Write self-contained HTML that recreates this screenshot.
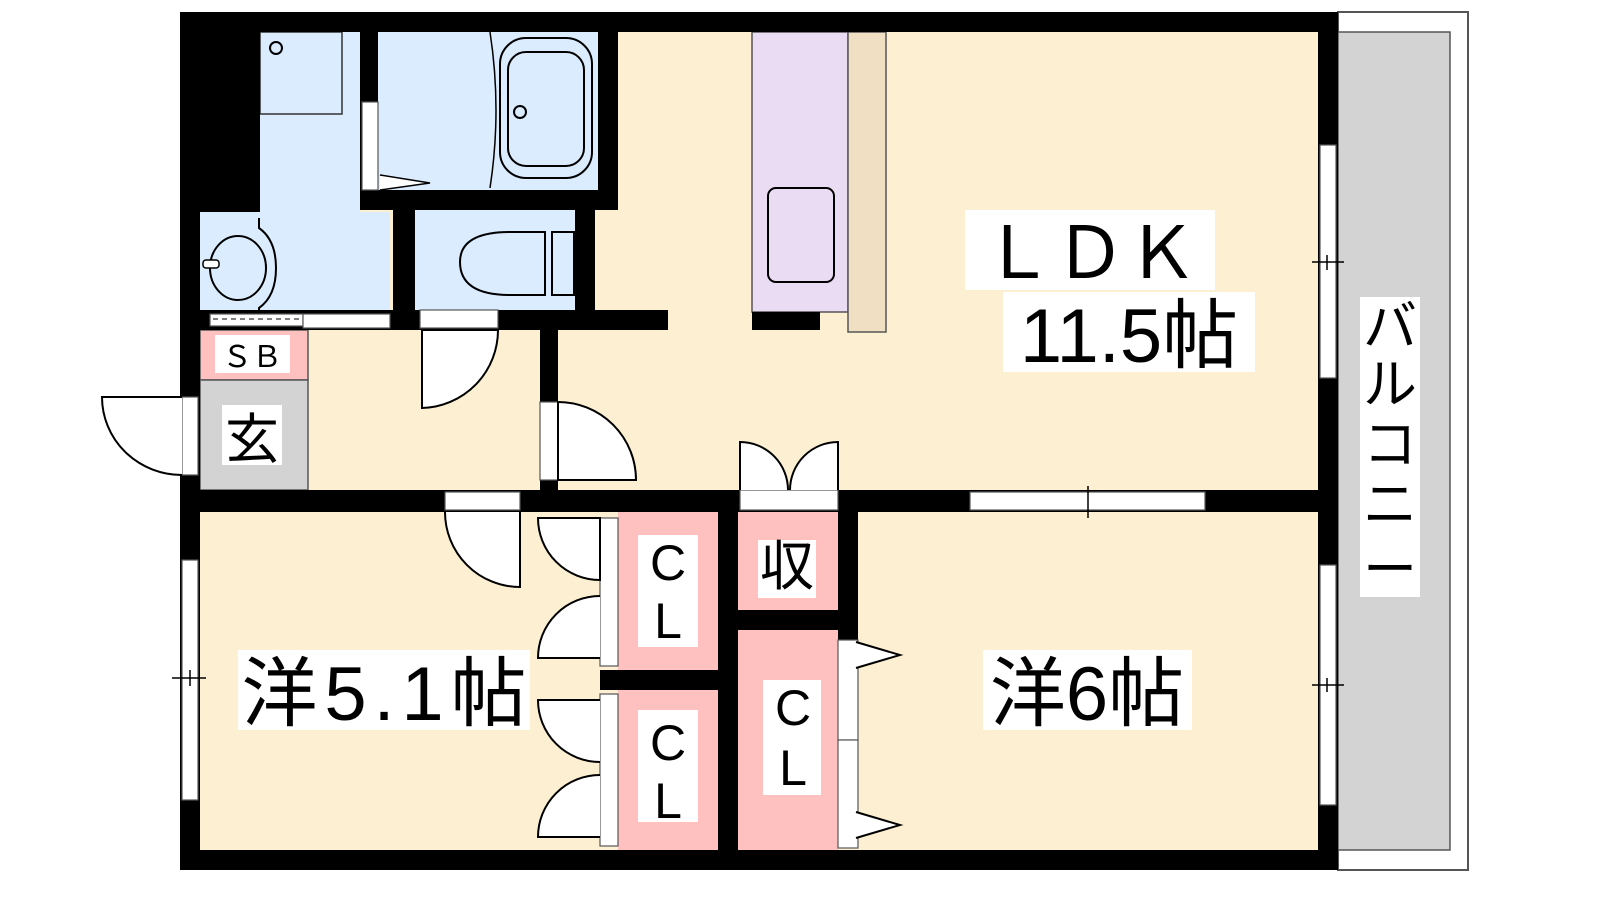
<!DOCTYPE html>
<html><head><meta charset="utf-8"><style>
html,body{margin:0;padding:0;background:#fff;width:1600px;height:900px;overflow:hidden}
text{font-family:"Liberation Sans","Noto Sans CJK JP",sans-serif;fill:#000}
</style></head><body>
<svg width="1600" height="900" viewBox="0 0 1600 900" xmlns="http://www.w3.org/2000/svg">
<rect x="1338" y="12" width="130" height="858" fill="#fff" stroke="#555" stroke-width="2"/>
<rect x="1338" y="32" width="112" height="818" fill="#d3d3d3" stroke="#555" stroke-width="1.5"/>
<rect x="200" y="32" width="1118" height="818" fill="#fdf0d2"/>
<rect x="260" y="32" width="100" height="283" fill="#dbecff"/>
<rect x="200" y="212" width="190" height="103" fill="#dbecff"/>
<rect x="378" y="32" width="220" height="158" fill="#dbecff"/>
<rect x="415" y="210" width="160" height="105" fill="#dbecff"/>
<rect x="200" y="330" width="108" height="50" fill="#ffc0c0" stroke="#555" stroke-width="1.5"/>
<rect x="200" y="380" width="108" height="110" fill="#d3d3d3" stroke="#555" stroke-width="1.5"/>
<rect x="752" y="32" width="96" height="280" fill="#eaddf3" stroke="#555" stroke-width="1.5"/>
<rect x="848" y="32" width="38" height="300" fill="#f1dfc4" stroke="#555" stroke-width="1.5"/>
<rect x="768" y="188" width="66" height="94" rx="8" fill="none" stroke="#000" stroke-width="2"/>
<rect x="618" y="512" width="100" height="158" fill="#ffc0c0"/>
<rect x="618" y="690" width="100" height="160" fill="#ffc0c0"/>
<rect x="738" y="512" width="100" height="98" fill="#ffc0c0"/>
<rect x="738" y="630" width="100" height="220" fill="#ffc0c0"/>
<rect x="260" y="32" width="82" height="82" fill="none" stroke="#333" stroke-width="1.5"/>
<circle cx="276" cy="48" r="6" fill="none" stroke="#000" stroke-width="2"/>
<ellipse cx="238" cy="268" rx="28" ry="32" fill="none" stroke="#000" stroke-width="2"/>
<path d="M259 218 V228 Q276 240 276 268 Q276 296 259 308 V318" fill="none" stroke="#000" stroke-width="2"/>
<rect x="203" y="260" width="16" height="8" rx="3" fill="#fff" stroke="#000" stroke-width="1.5"/>
<path d="M490 32 Q502 110 490 188" fill="none" stroke="#000" stroke-width="1.5"/>
<rect x="500" y="38" width="92" height="140" rx="26" fill="none" stroke="#000" stroke-width="2"/>
<rect x="508" y="52" width="76" height="114" rx="18" fill="none" stroke="#000" stroke-width="2"/>
<circle cx="520" cy="112" r="6" fill="none" stroke="#000" stroke-width="2"/>
<path d="M380 175 L430 183 L380 190" fill="#fff" stroke="#000" stroke-width="1.5"/>
<path d="M545 232 H510 Q460 232 460 262 Q460 295 510 295 H545 Z" fill="none" stroke="#000" stroke-width="2"/>
<rect x="552" y="232" width="22" height="63" fill="none" stroke="#000" stroke-width="2"/>
<g fill="#000">
<rect x="180" y="12" width="1158" height="20"/>
<rect x="180" y="12" width="20" height="858"/>
<rect x="180" y="850" width="1158" height="20"/>
<rect x="1318" y="12" width="20" height="858"/>
<rect x="180" y="12" width="80" height="200"/>
<rect x="360" y="32" width="18" height="178"/>
<rect x="360" y="190" width="258" height="20"/>
<rect x="598" y="32" width="20" height="178"/>
<rect x="393" y="210" width="22" height="120"/>
<rect x="575" y="210" width="20" height="105"/>
<rect x="200" y="310" width="468" height="20"/>
<rect x="540" y="330" width="18" height="160"/>
<rect x="180" y="490" width="1158" height="22"/>
<rect x="718" y="490" width="20" height="360"/>
<rect x="838" y="490" width="20" height="150"/>
<rect x="738" y="610" width="120" height="20"/>
<rect x="600" y="670" width="118" height="20"/>
<rect x="752" y="312" width="68" height="18"/>
</g>
<g fill="#fff" stroke="#555" stroke-width="1.2">
<rect x="362" y="102" width="16" height="88"/>
<rect x="210" y="314" width="93" height="12"/>
<rect x="303" y="314" width="87" height="14"/>
<rect x="420" y="310" width="78" height="18"/>
<rect x="540" y="402" width="18" height="78"/>
<rect x="445" y="492" width="75" height="18"/>
<rect x="740" y="490" width="98" height="20"/>
<rect x="970" y="492" width="235" height="18"/>
<rect x="1320" y="145" width="16" height="233"/>
<rect x="1320" y="565" width="16" height="240"/>
<rect x="182" y="560" width="16" height="240"/>
<rect x="182" y="397" width="16" height="78"/>
<rect x="600" y="518" width="18" height="148"/>
<rect x="600" y="694" width="18" height="152"/>
<rect x="838" y="640" width="20" height="100"/>
<rect x="838" y="740" width="20" height="108"/>
</g>
<line x1="213" y1="319" x2="300" y2="319" stroke="#000" stroke-dasharray="5,4"/>
<g fill="#fff" stroke="#000" stroke-width="2">
<path d="M422 330 V408 A78 78 0 0 0 498 330 Z"/>
<path d="M558 402 A78 78 0 0 1 636 480 H558 Z"/>
<path d="M182 397 H102 A80 78 0 0 0 182 475"/>
<path d="M445 512 A75 75 0 0 0 520 587 V512"/>
<path d="M600 518 H538 A62 62 0 0 0 600 580 Z"/>
<path d="M600 596 A62 62 0 0 0 538 658 H600"/>
<path d="M600 700 H538 A62 62 0 0 0 600 762"/>
<path d="M600 775 A62 62 0 0 0 538 837 H600"/>
<path d="M740 490 V442 A48 48 0 0 1 788 490"/>
<path d="M838 490 V442 A48 48 0 0 0 790 490"/>
<path d="M856 642 L900 655 L856 668"/>
<path d="M856 812 L900 825 L856 838"/>
</g>
<g stroke="#000" stroke-width="1.5">
<line x1="1312" y1="262" x2="1344" y2="262"/><line x1="1327" y1="255" x2="1327" y2="270"/>
<line x1="1312" y1="685" x2="1344" y2="685"/><line x1="1327" y1="678" x2="1327" y2="692"/>
<line x1="172" y1="678" x2="206" y2="678"/><line x1="190" y1="670" x2="190" y2="686"/>
<line x1="1088" y1="486" x2="1088" y2="518"/>
</g>
<g fill="#fff">
<rect x="965" y="210" width="250" height="80"/>
<rect x="1003" y="292" width="252" height="80"/>
<rect x="238" y="650" width="292" height="80"/>
<rect x="983" y="650" width="209" height="80"/>
<rect x="1360" y="297" width="60" height="300"/>
<rect x="215" y="335" width="75" height="38"/>
<rect x="222" y="405" width="60" height="60"/>
<rect x="638" y="535" width="60" height="112"/>
<rect x="638" y="710" width="60" height="112"/>
<rect x="758" y="540" width="58" height="58"/>
<rect x="763" y="680" width="58" height="115"/>
</g>
<text x="1090" y="278" font-size="72" text-anchor="middle">ＬＤＫ</text>
<text x="1129" y="362" font-size="76" text-anchor="middle">11.5帖</text>
<text x="384" y="720" font-size="76" text-anchor="middle" textLength="285">洋5.1帖</text>
<text x="1087" y="720" font-size="76" text-anchor="middle">洋6帖</text>
<g font-size="54" text-anchor="middle">
<text x="1390" y="345">バ</text><text x="1390" y="403">ル</text><text x="1390" y="463">コ</text><text x="1390" y="523">ニ</text><text x="1390" y="588">ー</text>
</g>
<text x="252" y="367" font-size="30" text-anchor="middle">ＳＢ</text>
<text x="252" y="458" font-size="54" text-anchor="middle">玄</text>
<g font-size="50" text-anchor="middle">
<text x="668" y="580">C</text><text x="668" y="638">L</text>
<text x="668" y="760">C</text><text x="668" y="818">L</text>
<text x="793" y="725">C</text><text x="793" y="785">L</text>
</g>
<text x="787" y="585" font-size="54" text-anchor="middle">収</text>
</svg>
</body></html>
